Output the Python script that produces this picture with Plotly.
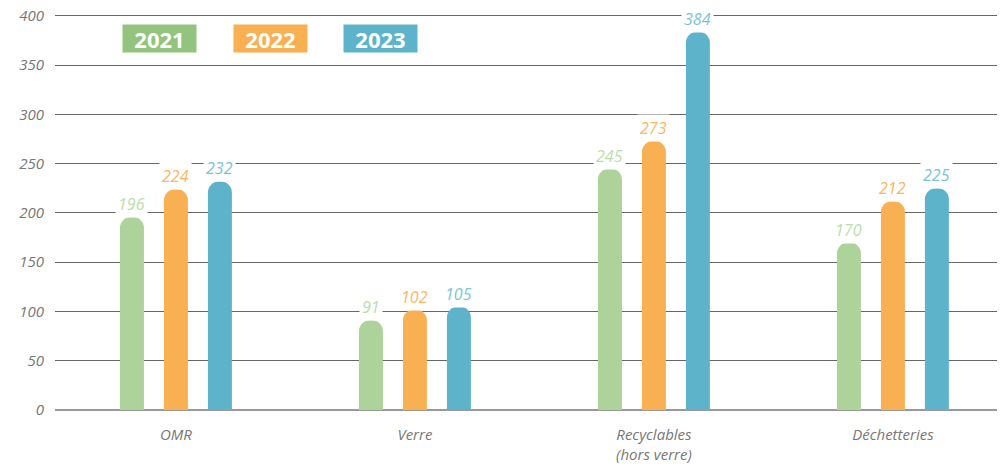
import plotly.graph_objects as go

categories = ["OMR", "Verre", "Recyclables<br>(hors verre)", "Déchetteries"]
years = ["2021", "2022", "2023"]
values_2021 = [196, 91, 245, 170]
values_2022 = [224, 102, 273, 212]
values_2023 = [232, 105, 384, 225]
y_ticks = [0, 50, 100, 150, 200, 250, 300, 350, 400]

bar_colors = ["#ADD39A", "#F8B052", "#5DB3C9"]
label_colors = ["#BADDA9", "#F9B767", "#7CC3D6"]
legend_colors = ["#93C47D", "#F8B052", "#5DB3C9"]
series = [values_2021, values_2022, values_2023]

FONT = "Open Sans, Liberation Sans, sans-serif"

fig = go.Figure()
for yr, vals, col in zip(years, series, bar_colors):
    fig.add_trace(go.Bar(
        x=categories, y=vals, name=yr,
        marker=dict(color=col, cornerradius="50%", line=dict(width=0)),
        showlegend=False, hoverinfo="skip",
    ))

# value labels (offset per series within group)
slot = 44 / 239  # fraction of a category
annotations = []
for i, (vals, col) in enumerate(zip(series, label_colors)):
    for j, v in enumerate(vals):
        annotations.append(dict(
            x=j + (i - 1) * slot, y=v, xref="x", yref="y",
            text="<i>%d</i>" % v, showarrow=False,
            yanchor="bottom", yshift=-1,
            font=dict(family=FONT, size=16, color=col),
            bgcolor="white", borderpad=2,
        ))

# legend boxes
leg_x = [0.1095, 0.227, 0.343]
for x, yr, col in zip(leg_x, years, legend_colors):
    annotations.append(dict(
        x=x, y=0.9322, xref="paper", yref="paper",
        text="<b>%s</b>" % yr, showarrow=False,
        xanchor="center", yanchor="middle",
        font=dict(family=FONT, size=22, color="white"),
        bgcolor=col, width=73, height=27, borderpad=0,
    ))

# page body has an 8px default margin: size the figure to fill the rest
fig.update_layout(
    width=997, height=456,
    margin=dict(l=47, r=0, t=4, b=54, autoexpand=False),
    paper_bgcolor="white", plot_bgcolor="white",
    barmode="group", bargap=0.448, bargroupgap=0.455,
    annotations=annotations,
    font=dict(family=FONT),
)
fig.update_xaxes(
    automargin=False,
    range=[-0.506, 3.469], showgrid=False, showline=False, zeroline=False,
    ticks="", tickfont=dict(family=FONT, size=15, color="#777777"),
    tickvals=list(range(len(categories))),
    ticktext=["<i>%s</i>" % c for c in categories],
    ticklabelstandoff=14,
)
fig.update_yaxes(
    automargin=False, ticklabeloverflow="allow",
    range=[0, 404], tickvals=y_ticks,
    ticktext=["<i>%d</i>" % t for t in y_ticks],
    showgrid=True, gridcolor="#666666", gridwidth=1.2,
    zeroline=True, zerolinecolor="#999999", zerolinewidth=2,
    showline=False, ticks="", ticklabelstandoff=10,
    tickfont=dict(family=FONT, size=15, color="#777777"),
)

fig.write_html("out.html")
